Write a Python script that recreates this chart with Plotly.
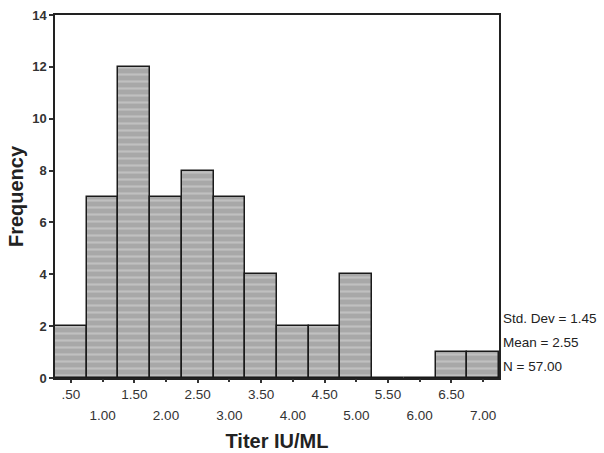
import plotly.graph_objects as go

bin_centers = [0.5, 1.0, 1.5, 2.0, 2.5, 3.0, 3.5, 4.0, 4.5, 5.0, 5.5, 6.0, 6.5, 7.0]
counts = [2, 7, 12, 7, 8, 7, 4, 2, 2, 4, 0, 0, 1, 1]
row1_ticks = [0.5, 1.5, 2.5, 3.5, 4.5, 5.5, 6.5]
row1_labels = [".50", "1.50", "2.50", "3.50", "4.50", "5.50", "6.50"]
row2_ticks = [1.0, 2.0, 3.0, 4.0, 5.0, 6.0, 7.0]
row2_labels = ["1.00", "2.00", "3.00", "4.00", "5.00", "6.00", "7.00"]
y_ticks = [0, 2, 4, 6, 8, 10, 12, 14]
stats_lines = ["Std. Dev = 1.45", "Mean = 2.55", "N = 57.00"]

FONT = "Liberation Sans, Arial, sans-serif"

fig = go.Figure()
fig.add_trace(go.Bar(
    x=bin_centers, y=counts, width=0.5,
    marker=dict(
        color="#b0b0b0",
        line=dict(color="#1a1a1a", width=1.5),
        pattern=dict(shape="-", bgcolor="#a8a8a8", fgcolor="#d8d8d8",
                     size=7, solidity=0.3, fillmode="overlay"),
    ),
    showlegend=False, hoverinfo="skip",
))
# invisible trace for second row of tick labels
fig.add_trace(go.Scatter(x=[row2_ticks[0]], y=[0], xaxis="x2", mode="markers",
                         marker=dict(opacity=0), showlegend=False, hoverinfo="skip"))

x_range = [0.25, 7.25]
fig.update_layout(
    width=604, height=453,
    margin=dict(l=55, r=105, t=15, b=75, autoexpand=False),
    paper_bgcolor="white", plot_bgcolor="white",
    font=dict(family=FONT, color="#222222"),
    bargap=0,
    xaxis=dict(
        range=x_range, tickmode="array", tickvals=row1_ticks, ticktext=row1_labels,
        showline=True, linecolor="#222222", linewidth=1.5, mirror=True,
        ticks="outside", ticklen=3, tickwidth=2, tickcolor="#333333",
        showgrid=False, zeroline=False, automargin=False,
        tickfont=dict(size=13.5, color="#333333"),
        title=dict(text="<b>Titer IU/ML</b>", font=dict(size=20, color="#222222"), standoff=33),
    ),
    xaxis2=dict(
        range=x_range, overlaying="x", side="bottom", anchor="y",
        tickmode="array", tickvals=row2_ticks, ticktext=row2_labels,
        ticks="outside", ticklen=3, tickwidth=2, tickcolor="#333333",
        ticklabelstandoff=22, automargin=False,
        showgrid=False, zeroline=False, showline=False,
        tickfont=dict(size=13.5, color="#333333"),
    ),
    yaxis=dict(
        range=[0, 14], tickmode="array", tickvals=y_ticks,
        showline=True, linecolor="#222222", linewidth=1.5, mirror=True,
        ticks="outside", ticklen=4, tickwidth=2, tickcolor="#333333",
        showgrid=False, zeroline=False, automargin=False,
        tickfont=dict(size=13, color="#333333", weight="bold"),
        title=dict(text="<b>Frequency</b>", font=dict(size=20, color="#222222"), standoff=3),
    ),
)

for i, line in enumerate(stats_lines):
    fig.add_annotation(
        x=1.0, y=0.165 - i * 0.066, xref="paper", yref="paper",
        xanchor="left", yanchor="middle", xshift=2,
        text=line, showarrow=False,
        font=dict(size=13.5, color="#222222", family=FONT),
    )

fig.write_html("out.html", config={"displayModeBar": False},
               post_script="document.body.style.margin='0px';")
